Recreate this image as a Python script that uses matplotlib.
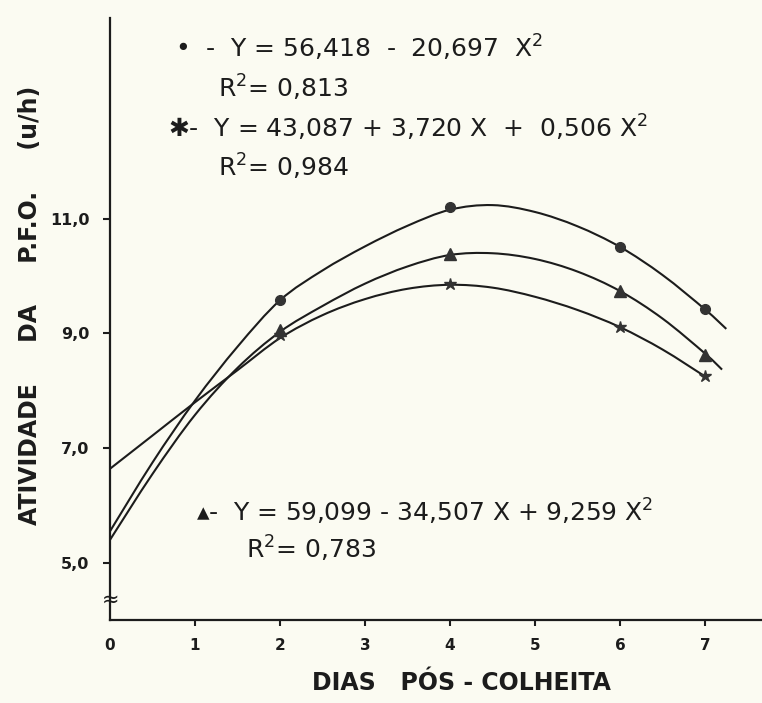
import numpy as np
import matplotlib
matplotlib.use("Agg")
import matplotlib.pyplot as plt
from matplotlib.path import Path
from matplotlib.patches import PathPatch

# observed points (days after harvest)
dias = [2, 4, 6, 7]
circulo = [9.58, 11.21, 10.51, 9.42]
triangulo = [9.06, 10.39, 9.74, 8.63]
estrela = [8.97, 9.86, 9.11, 8.25]

# fitted curves
x_circ = [0, 0.5, 1, 1.5, 2, 2.5, 3, 3.5, 4, 4.5, 5, 5.5, 6, 6.5, 7, 7.25]
y_circ = [5.55, 6.75, 7.83, 8.77, 9.58, 10.1, 10.52, 10.88, 11.16, 11.24, 11.12, 10.87, 10.51, 10.02, 9.42, 9.08]
x_tri = [0, 0.5, 1, 1.5, 2, 2.5, 3, 3.5, 4, 4.5, 5, 5.5, 6, 6.5, 7, 7.2]
y_tri = [5.4, 6.55, 7.58, 8.4, 9.03, 9.48, 9.87, 10.17, 10.37, 10.4, 10.3, 10.08, 9.74, 9.26, 8.65, 8.37]
x_est = [0, 0.5, 1, 1.5, 2, 2.5, 3, 3.5, 4, 4.5, 5, 5.5, 6, 6.5, 7]
y_est = [6.64, 7.22, 7.8, 8.36, 8.92, 9.32, 9.6, 9.78, 9.85, 9.8, 9.64, 9.41, 9.11, 8.72, 8.25]

xticks = [0, 1, 2, 3, 4, 5, 6, 7]
xticklabels = ["0", "1", "2", "3", "4", "5", "6", "7"]
yticks = [5, 7, 9, 11]
yticklabels = ["5,0", "7,0", "9,0", "11,0"]

ink = "#1c1c1c"
bg = "#fbfbf2"
plt.rcParams["mathtext.default"] = "regular"


def smooth(xs, ys):
    # catmull-rom through the read points, drawn as bezier path
    pts = np.column_stack([xs, ys])
    verts = [pts[0]]
    codes = [Path.MOVETO]
    n = len(pts)
    for i in range(n - 1):
        p0 = pts[max(i - 1, 0)]
        p1 = pts[i]
        p2 = pts[i + 1]
        p3 = pts[min(i + 2, n - 1)]
        verts += [p1 + (p2 - p0) / 6, p2 - (p3 - p1) / 6, p2]
        codes += [Path.CURVE4] * 3
    return Path(verts, codes)


fig = plt.figure(figsize=(7.62, 7.03), dpi=100, facecolor=bg)
ax = fig.add_axes([0.1444, 0.118, 0.8556, 0.856])
ax.set_facecolor(bg)

for xs, ys in [(x_circ, y_circ), (x_tri, y_tri), (x_est, y_est)]:
    ax.add_patch(PathPatch(smooth(xs, ys), fill=False, edgecolor=ink, lw=1.5))

ax.plot(dias, circulo, "o", color="#333333", ms=7, zorder=3)
ax.plot(dias, triangulo, "^", color="#333333", ms=8, zorder=3)
ax.plot(dias, estrela, "*", color="#333333", ms=9, zorder=3)

ax.set_xlim(0, 7.67)
ax.set_ylim(4.0, 14.5)
for s in ["top", "right"]:
    ax.spines[s].set_visible(False)
for s in ["left", "bottom"]:
    ax.spines[s].set_linewidth(1.6)
    ax.spines[s].set_color(ink)

ax.set_xticks(xticks)
ax.set_xticklabels(xticklabels, fontsize=11, fontweight="bold", color=ink)
ax.set_yticks(yticks)
ax.set_yticklabels(yticklabels, fontsize=11.5, fontweight="bold", color=ink)
ax.tick_params(axis="x", length=4, width=1.5, pad=9, color=ink)
ax.tick_params(axis="y", length=5, width=1.5, pad=10, color=ink)
ax.xaxis.get_major_ticks()[0].tick1line.set_visible(False)

# axis break
ax.text(0, 4.35, "≈", ha="center", va="center", fontsize=15, color=ink, clip_on=False)

eq = dict(fontsize=18, color=ink, va="center", ha="left")
ax.text(0.76, 13.98, "•  -  Y = 56,418  -  20,697  X$^2$", **eq)
ax.text(1.27, 13.28, "R$^2$= 0,813", **eq)
ax.text(0.68, 12.58, "✱-  Y = 43,087 + 3,720 X  +  0,506 X$^2$", **eq)
ax.text(1.27, 11.9, "R$^2$= 0,984", **eq)
ax.text(1.01, 5.88, "▴-  Y = 59,099 - 34,507 X + 9,259 X$^2$", **eq)
ax.text(1.6, 5.25, "R$^2$= 0,783", **eq)

fig.text(0.606, 0.028, "DIAS   PÓS - COLHEITA", ha="center", va="center",
         fontsize=17, fontweight="bold", color=ink)
fig.text(0.04, 0.566, "ATIVIDADE     DA     P.F.O.     (u/h)", ha="center", va="center",
         rotation=90, fontsize=17, fontweight="bold", color=ink)

fig.savefig("out.png", dpi=100, facecolor=bg)
